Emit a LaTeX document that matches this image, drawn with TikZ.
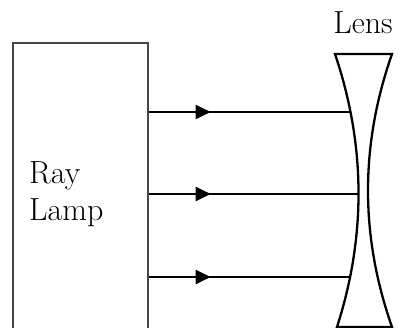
\documentclass[tikz,border=0pt]{standalone}
\usepackage{tikz}
\usetikzlibrary{arrows.meta,decorations.markings}

\begin{document}
\begin{tikzpicture}[x=1pt,y=-1pt,
lampbox/.style={draw=black!72,line width=1.7pt,rectangle,inner sep=0pt},
lbl/.style={inner sep=0pt,font=\fontsize{32}{37}\selectfont},
ray/.style={line width=1.9pt,
    decoration={markings,mark=at position 62pt with {\arrow{Triangle[length=15pt,width=14pt]}}},
    postaction=decorate},
lensline/.style={line width=2.3pt,line join=miter}]
\useasboundingbox (0,0) rectangle (398,328);
% ray lamp
\node (lamp) [lampbox,anchor=north west,minimum width=135pt,minimum height=310pt] at (12,42) {};
\node (lamptext) [lbl,anchor=north west,align=left] at (29,161) {Ray\\Lamp};
% lens
\node (lenslabel) [lbl,anchor=base] at (363,34) {Lens};
\draw[lensline] (335,54) -- (392,54)
    .. controls (360,145) and (360,236) .. (392,327)
    -- (337,327)
    .. controls (366.3,236) and (365.7,145) .. cycle;
\coordinate (hit1) at (350,112);
\coordinate (hit2) at (358.3,194);
\coordinate (hit3) at (349.5,277);
% rays
\draw[ray] (lamp.north east |- hit1) -- (hit1);
\draw[ray] (lamp.north east |- hit2) -- (hit2);
\draw[ray] (lamp.north east |- hit3) -- (hit3);
\end{tikzpicture}
\end{document}
